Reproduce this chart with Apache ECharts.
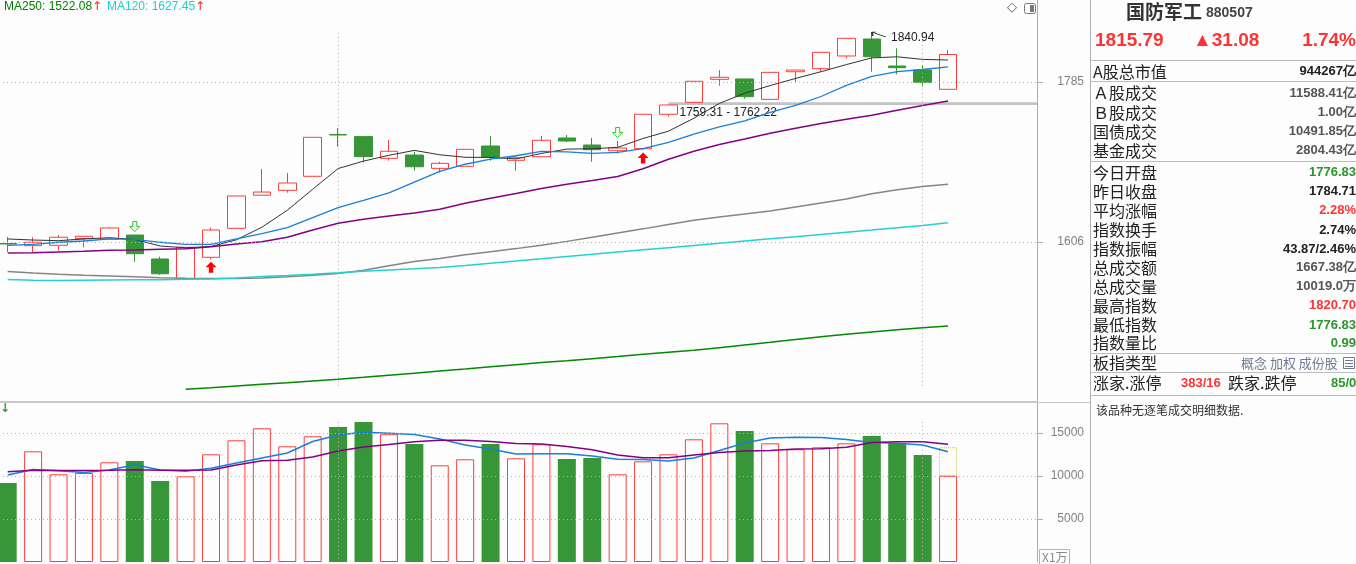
<!DOCTYPE html>
<html>
<head>
<meta charset="utf-8">
<script src="https://cdn.jsdelivr.net/npm/echarts@6.0.0/dist/echarts.min.js"></script>
<style>
html,body{margin:0;padding:0;background:#fdfdfd;overflow:hidden;}
#chart{width:1361px;height:564px;margin-left:-5px;}
</style>
</head>
<body>
<div id="chart"></div>
<script>
// ---------------- data ----------------
const days = ['D01','D02','D03','D04','D05','D06','D07','D08','D09','D10','D11','D12','D13','D14','D15','D16','D17','D18','D19','D20',
              'D21','D22','D23','D24','D25','D26','D27','D28','D29','D30','D31','D32','D33','D34','D35','D36','D37','D38'];
const padDays = ['P1','P2','P3'];

const opens  = [1604.3,1601.9,1602.3,1609.8,1609.4,1613.8,1587.0,1565.0,1588.9,1621.3,1658.3,1663.8,1679.5,1726.3,1723.9,1699.6,1703.3,1688.4,1690.7,1713.4,
                1697.4,1701.4,1722.4,1714.5,1708.1,1710.4,1748.9,1762.22,1788.0,1788.4,1765.6,1796.5,1799.9,1814.1,1833.1,1802.9,1798.4,1776.83];
const closes = [1603.8,1605.7,1611.3,1612.4,1621.7,1592.9,1570.5,1600.1,1619.4,1657.5,1661.9,1672.0,1723.1,1725.7,1701.5,1707.5,1690.2,1694.0,1709.7,1701.1,
                1700.3,1719.8,1719.0,1709.3,1711.2,1748.9,1759.31,1785.8,1790.3,1768.6,1795.8,1798.4,1818.2,1833.9,1813.3,1801.0,1784.71,1815.79];
const lows   = [1594.8,1594.5,1596.3,1600.1,1609.4,1584.0,1569.0,1565.0,1586.6,1621.3,1658.3,1661.2,1679.5,1712.6,1695.2,1697.0,1685.8,1683.6,1690.7,1697.0,
                1685.8,1701.4,1717.9,1695.8,1704.8,1709.0,1746.2,1762.22,1780.9,1766.3,1765.6,1784.7,1796.5,1811.5,1796.5,1793.6,1779.7,1776.83];
const highs  = [1611.6,1611.3,1613.8,1612.4,1622.8,1613.8,1589.6,1600.1,1622.0,1657.5,1687.7,1683.2,1723.1,1733.5,1723.9,1720.1,1707.0,1695.8,1709.7,1724.6,
                1703.3,1724.6,1725.7,1722.4,1719.0,1748.9,1759.31,1785.8,1798.4,1788.4,1795.8,1798.4,1818.2,1833.9,1840.94,1822.7,1804.0,1820.70];

const ma5   = [1609.4,1608.2,1607.5,1609.4,1610.8,1608.9,1601.5,1599.5,1601.0,1608.5,1622.5,1641.5,1665.0,1688.2,1696.5,1703.0,1708.5,1703.6,1700.8,1700.6,
               1699.0,1705.1,1709.9,1710.3,1711.9,1721.8,1730.0,1744.5,1761.0,1772.5,1781.0,1789.0,1796.5,1804.5,1812.0,1813.2,1810.3,1809.6];
const ma10  = [1602.3,1603.4,1605.7,1607.1,1609.4,1609.0,1605.7,1603.4,1603.4,1609.5,1615.3,1622.0,1633.2,1644.5,1652.5,1661.0,1673.0,1685.0,1693.0,1698.7,
               1702.5,1707.3,1706.9,1705.2,1706.2,1710.4,1717.5,1726.6,1734.7,1741.4,1751.0,1758.9,1768.8,1781.2,1791.4,1796.7,1799.0,1802.0];
const ma20  = [1593.6,1594.0,1594.8,1595.6,1596.7,1597.1,1597.8,1598.5,1600.7,1603.8,1606.3,1611.3,1619.4,1626.9,1631.4,1635.1,1638.4,1642.6,1649.4,1654.9,
               1660.3,1665.9,1670.7,1674.8,1679.3,1688.0,1698.5,1707.5,1715.0,1721.2,1727.6,1733.3,1738.6,1743.3,1747.7,1753.3,1758.7,1763.7];
const ma60  = [1573.0,1571.3,1569.9,1568.9,1568.0,1567.1,1566.1,1565.5,1565.2,1565.1,1565.7,1567.0,1568.8,1570.8,1574.3,1579.4,1584.2,1587.5,1591.7,1595.0,
               1598.6,1602.3,1606.7,1611.4,1616.1,1620.7,1625.5,1630.3,1634.0,1637.3,1640.7,1645.2,1649.6,1654.1,1659.9,1664.5,1668.1,1670.6];
const ma120 = [1564.0,1563.2,1562.9,1563.2,1563.5,1563.7,1563.9,1564.3,1564.5,1565.7,1567.4,1568.5,1569.9,1571.5,1573.3,1574.7,1576.0,1577.4,1579.8,1582.3,
               1584.7,1587.2,1589.8,1592.2,1594.7,1597.2,1599.6,1602.1,1604.5,1607.1,1609.6,1612.0,1614.5,1617.0,1619.4,1622.0,1624.5,1627.45];
const ma250 = [null,null,null,null,null,null,null,1441.2,1443.0,1444.9,1446.8,1448.6,1450.5,1452.4,1454.6,1456.9,1459.2,1461.6,1463.9,1466.4,
               1468.8,1471.3,1473.1,1475.4,1477.8,1480.3,1482.6,1484.8,1487.8,1490.8,1493.8,1496.9,1499.9,1502.7,1505.3,1507.9,1510.0,1512.0];

const volumes = [9186,12872,10198,10349,11593,11744,9419,9965,12523,14151,15547,13453,14616,15698,16279,14849,13721,11244,11942,13721,
                 12058,13686,11977,12093,10198,11709,12523,14267,16128,15233,13802,13105,13337,13802,14651,13837,12442,10019];
const volMa5  = [10116,10756,10616,10407,10698,11314,10698,10547,10895,11512,12093,12674,14012,14767,15081,14965,14826,14302,13605,13140,
                 12558,12581,12581,12326,11953,11919,11744,12093,12965,13837,14419,14500,14477,14244,13895,13802,13605,12826];
const volMa10 = [10500,10663,10640,10640,10663,10721,10663,10663,10698,11279,11779,11826,12209,12907,13372,13663,13988,14151,14151,14012,
                 13779,13721,13430,13058,12442,12128,12128,12442,12733,12907,12965,13140,13174,13337,13895,13988,13988,13686];
const forecastVolume = 13340;

const priceTicks = [1606, 1785];
const volTicks = [5000, 10000, 15000];
const gridDays = ['D14', 'D37'];
const sellSignalDays = [5, 24];
const buySignalDays = [8, 25];
const peakDay = 34;
const gapDay = 26;
const gapLow = 1759.31, gapHigh = 1762.22;

const legendItems = [['MA250: 1522.08', '#008000'], ['MA120: 1627.45', '#1fd0d0']];

const quoteTitle = '国防军工', quoteCode = '880507';
const quotePrice = '1815.79', quoteChange = '▲31.08', quotePct = '1.74%';
const panelLabels = ['A股总市值','Ａ股成交','Ｂ股成交','国债成交','基金成交','今日开盘','昨日收盘','平均涨幅','指数换手','指数振幅','总成交额','总成交量','最高指数','最低指数','指数量比'];
const panelValues = ['944267亿','11588.41亿','1.00亿','10491.85亿','2804.43亿','1776.83','1784.71','2.28%','2.74%','43.87/2.46%','1667.38亿','10019.0万','1820.70','1776.83','0.99'];
const panelTones  = ['dark','gray','gray','gray','gray','down','dark','up','dark','dark','gray','gray','up','down','down'];

// ---------------- styles / layout ----------------
const RED = '#ff3c3c', GREEN = '#379637';
const toneColor = {dark:'#222222', gray:'#555555', up:'#ff3333', down:'#2c962c'};
const OX = 5;                 // the canvas starts 5px left of the window
const GRID_W = 1042;
const dotLine = {type:[1,3], color:'#b0b0b0', width:1};

const allDays = days.concat(padDays);
const candleData = opens.map((o,i)=>[o, closes[i], lows[i], highs[i]]);
const isUp = closes.map((c,i)=> c >= opens[i]);
const volData = volumes.map((v,i)=>({
  value: v,
  itemStyle: isUp[i] ? {color:'rgba(0,0,0,0)', borderColor:RED, borderWidth:1} : {color:GREEN, borderWidth:0}
}));
const fcData = volumes.map((v,i)=> i === volumes.length-1 ? forecastVolume - v : null);

const downPath = 'path://M3,0 L7,0 L7,5 L10,5 L5,10 L0,5 L3,5 Z';
const upPath = 'path://M5,0 L10,5 L7,5 L7,10 L3,10 L3,5 L0,5 Z';
const pointerPath = 'path://M0,0 L14,5 M0,0 L4,0 M0,0 L1,4';

const markPts = [];
sellSignalDays.forEach(i => markPts.push({coord:[days[i], highs[i]], symbol:downPath, symbolSize:10, symbolOffset:[0,-8.5],
  itemStyle:{color:'#fdfdfd', borderColor:'#22cc22', borderWidth:1}, label:{show:false}}));
buySignalDays.forEach(i => markPts.push({coord:[days[i], lows[i]], symbol:upPath, symbolSize:11, symbolOffset:[0,8],
  itemStyle:{color:'#ff0000'}, label:{show:false}}));
markPts.push({coord:[days[peakDay], highs[peakDay]], symbol:pointerPath, symbolSize:[14,5], symbolOffset:[7,2.5],
  itemStyle:{color:'none', borderColor:'#333', borderWidth:1},
  label:{show:true, position:'right', distance:1, offset:[0,3], formatter:highs[peakDay].toFixed(2), color:'#222', fontSize:12, fontFamily:'Liberation Sans'}});

function maLine(data, color, width, xi){
  return {type:'line', data, xAxisIndex:xi, yAxisIndex:xi, symbol:'none', smooth:false, silent:true,
          lineStyle:{color, width}, itemStyle:{color}, connectNulls:false, z:3};
}

// ---------------- graphic (legend + right panel) ----------------
const G = [];
function txt(x, y, text, font, fill, align){
  align = align || 'left';
  G.push({type:'text', x: x + OX, y, silent:true, z:100,
    style:{text, font, fill, align, verticalAlign:'middle', textAlign:align, textVerticalAlign:'middle'}});
}
function hl(x1, x2, y, color){
  G.push({type:'line', silent:true, z:100, shape:{x1:x1+OX, y1:y, x2:x2+OX, y2:y}, style:{stroke:color||'#bdbdbd', lineWidth:1}});
}
function vl(x, y1, y2, color){
  G.push({type:'line', silent:true, z:100, shape:{x1:x+OX, y1, x2:x+OX, y2}, style:{stroke:color||'#bdbdbd', lineWidth:1}});
}
function box(x, y, w, h, stroke, fill, r){
  G.push({type:'rect', silent:true, z:100, shape:{x:x+OX, y, width:w, height:h, r:r||0}, style:{fill:fill||'none', stroke:stroke||'none', lineWidth:1}});
}
// legend
txt(4, 7, legendItems[0][0], '12px "Liberation Sans"', legendItems[0][1]);
txt(92, 7, '↑', '12px "DejaVu Sans"', '#ff2020');
txt(107, 7, legendItems[1][0], '12px "Liberation Sans"', legendItems[1][1]);
txt(195, 7, '↑', '12px "DejaVu Sans"', '#ff2020');
// top-right icons
txt(1012, 8, '◇', '13px "DejaVu Sans"', '#555', 'center');
box(1024.5, 3.5, 11, 10, '#777', 'none', 2);
box(1030, 5, 4, 7, null, '#777');
// small green arrow on volume panel
txt(0, 409, '↓', 'bold 12px "DejaVu Sans"', GREEN);
// divider continuation & X1万 box
hl(1037, 1090, 402.5, '#c8c8c8');
box(1039.5, 549.5, 30, 16, '#b4b4b4');
txt(1042, 557, 'X1万', '12px "Noto Sans CJK SC"', '#888');
// right panel
vl(1090.5, 0, 564, '#b0b0b0');
txt(1126, 12, quoteTitle, 'bold 19px "Noto Sans CJK SC"', '#333');
txt(1206, 13, quoteCode, 'bold 14px "Liberation Sans"', '#444');
txt(1095, 41, quotePrice, 'bold 19px "Liberation Sans"', '#ff3333');
txt(1193, 41, quoteChange, 'bold 19px "Liberation Sans"', '#ff3333');
txt(1356, 41, quotePct, 'bold 19px "Liberation Sans"', '#ff3333', 'right');
[60.5, 81.5, 161.5, 353.5, 372.5, 395.5].forEach(y => hl(1090, 1356, y));
const rowY = [71.7, 93.3, 112.7, 131.7, 150.7, 172.7, 191.7, 210.7, 230, 249, 267.5, 286.7, 305.7, 325, 343.3];
panelLabels.forEach((lab, i) => {
  txt(1093, rowY[i], lab, '16px "Noto Sans CJK SC"', '#222');
  txt(1356, rowY[i], panelValues[i], 'bold 13px "Liberation Sans"', toneColor[panelTones[i]], 'right');
});
txt(1093, 363.3, '板指类型', '16px "Noto Sans CJK SC"', '#222');
txt(1241, 363.3, '概念 加权 成份股', '13px "Noto Sans CJK SC"', '#6e7a94');
box(1343.5, 357.5, 11, 11, '#6e7a94');
[360.5, 363.5, 366.5].forEach(y => hl(1345, 1353, y, '#6e7a94'));
txt(1093, 383.3, '涨家.涨停', '16px "Noto Sans CJK SC"', '#222');
txt(1181, 383.3, '383/16', 'bold 13px "Liberation Sans"', '#ff3333');
txt(1228, 383.3, '跌家.跌停', '16px "Noto Sans CJK SC"', '#222');
txt(1331, 383.3, '85/0', 'bold 13px "Liberation Sans"', '#2c962c');
txt(1096, 410.7, '该品种无逐笔成交明细数据.', '12px "Noto Sans CJK SC"', '#333');

// ---------------- option ----------------
const plain = v => String(v);
const option = {
  animation: false,
  backgroundColor: '#fdfdfd',
  grid: [
    {left: 0, top: 0, width: GRID_W, height: 402},
    {left: 0, top: 403, width: GRID_W, height: 159}
  ],
  xAxis: [
    {type:'category', gridIndex:0, data: allDays, boundaryGap:true,
     axisLine:{show:true, lineStyle:{color:'#c8c8c8', width:2}}, axisTick:{show:false}, axisLabel:{show:false}, splitLine:{show:false}},
    {type:'category', gridIndex:1, data: allDays, boundaryGap:true,
     axisLine:{show:false}, axisTick:{show:false}, axisLabel:{show:false}, splitLine:{show:false}}
  ],
  yAxis: [
    {type:'value', gridIndex:0, position:'right', min:1427, max:1876.75, scale:true,
     axisLine:{show:true, lineStyle:{color:'#ababab'}},
     axisTick:{show:true, length:6, customValues: priceTicks, lineStyle:{color:'#ababab'}},
     axisLabel:{show:true, customValues: priceTicks, formatter: plain, color:'#808080', fontSize:12, fontFamily:'Liberation Sans', align:'right', margin:47},
     splitLine:{show:false}},
    {type:'value', gridIndex:1, position:'right', min:0, max:18488, interval:5000,
     axisLine:{show:true, lineStyle:{color:'#ababab'}},
     axisTick:{show:true, length:6, customValues: volTicks, lineStyle:{color:'#ababab'}},
     axisLabel:{show:true, customValues: volTicks, formatter: plain, color:'#808080', fontSize:12, fontFamily:'Liberation Sans', align:'right', margin:47},
     splitLine:{show:false}}
  ],
  series: [
    {type:'candlestick', name:'K', xAxisIndex:0, yAxisIndex:0, data:candleData, barWidth:18, z:2,
     itemStyle:{color:'rgba(0,0,0,0)', color0:GREEN, borderColor:RED, borderColor0:GREEN, borderWidth:1},
     markLine:{silent:true, symbol:['none','none'], label:{show:false}, lineStyle:dotLine, animation:false,
       data: priceTicks.map(v=>({yAxis:v})).concat(gridDays.map(d=>[{coord:[d, 1840]}, {coord:[d, 1444]}]))},
     markArea:{silent:true, itemStyle:{color:'#c2c2c2'},
       label:{show:true, position:[11,4], color:'#222', fontSize:12, fontFamily:'Liberation Sans'},
       data:[[{xAxis: days[gapDay], yAxis: gapLow, name: gapLow.toFixed(2)+' - '+gapHigh.toFixed(2)}, {yAxis: gapHigh}]]},
     markPoint:{silent:true, data: markPts}
    },
    maLine(ma5, '#333333', 1, 0),
    maLine(ma10, '#1a7fd6', 1.3, 0),
    maLine(ma20, '#860086', 1.5, 0),
    maLine(ma60, '#858585', 1.5, 0),
    maLine(ma120, '#22d2d2', 1.5, 0),
    maLine(ma250, '#008a00', 1.5, 0),
    {type:'bar', xAxisIndex:1, yAxisIndex:1, data:volData, barWidth:18, stack:'vol', z:2, silent:true},
    {type:'bar', xAxisIndex:1, yAxisIndex:1, data:fcData, barWidth:18, stack:'vol', z:2, silent:true,
     itemStyle:{color:'rgba(0,0,0,0)', borderColor:'#c8c800', borderWidth:1, borderType:'dotted'}},
    Object.assign(maLine(volMa5, '#1a7fd6', 1.5, 1), {
      markLine:{silent:true, symbol:['none','none'], label:{show:false}, lineStyle:dotLine, animation:false,
        data: volTicks.map(v=>({yAxis:v})).concat(gridDays.map(d=>[{coord:[d, 16300]}, {coord:[d, 0]}]))}
    }),
    maLine(volMa10, '#860086', 1.5, 1)
  ],
  graphic: G
};

const chart = echarts.init(document.getElementById('chart'), null, {renderer:'canvas'});
chart.setOption(option);
</script>
</body>
</html>
